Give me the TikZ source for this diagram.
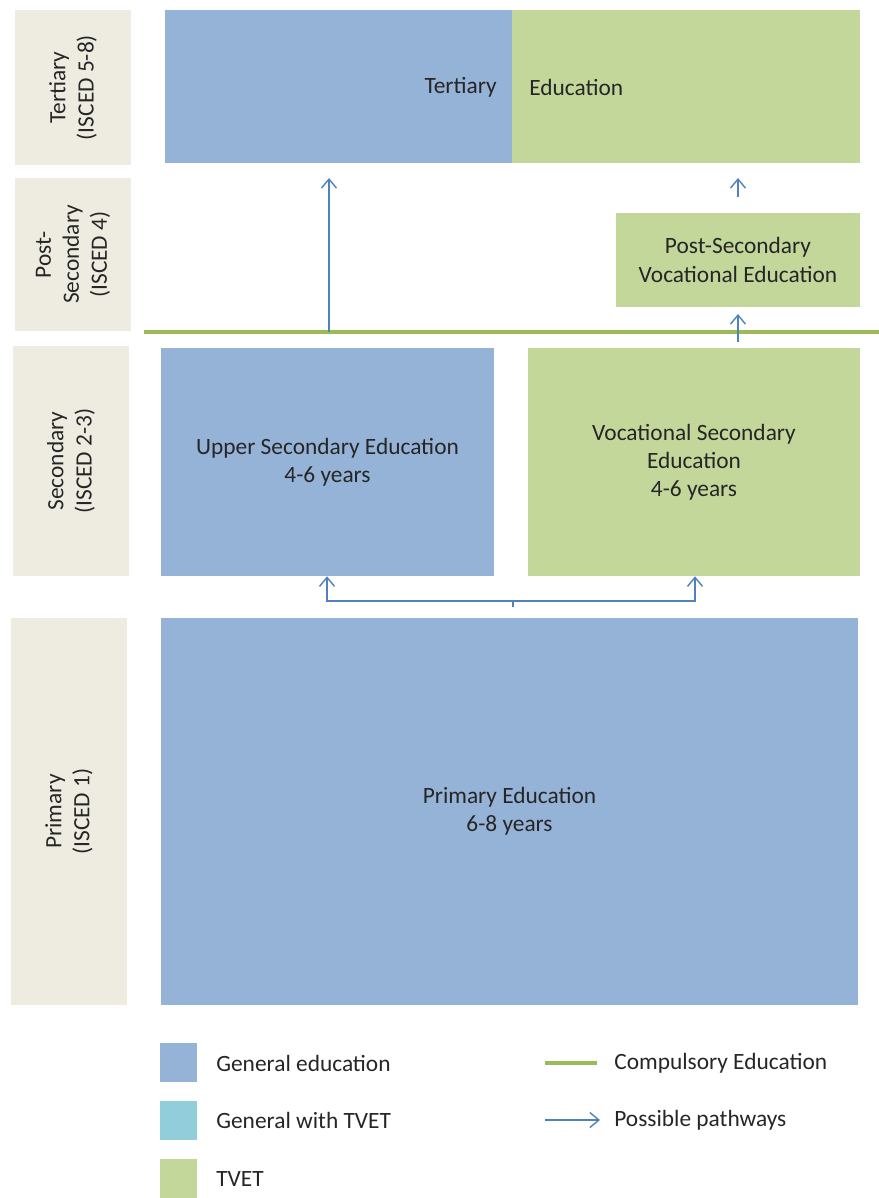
\documentclass[tikz,border=0pt]{standalone}
\usepackage{fontspec}
\setmainfont{Carlito}
\usetikzlibrary{positioning,arrows.meta,calc}
\definecolor{genblue}{HTML}{95B3D7}
\definecolor{tvetgreen}{HTML}{C4D79B}
\definecolor{mixcyan}{HTML}{92CDDC}
\definecolor{compgreen}{HTML}{9BBB59}
\definecolor{stagegray}{HTML}{EEECE1}
\definecolor{pathblue}{HTML}{4F81BD}
\tikzset{
  stage/.style={rectangle, fill=stagegray, rotate=90, align=center, inner sep=0pt, font=\fontsize{13.3}{16}\selectfont},
  gen/.style={rectangle, fill=genblue, align=center, inner sep=0pt, font=\fontsize{13.3}{16}\selectfont},
  tvet/.style={rectangle, fill=tvetgreen, align=center, inner sep=0pt, font=\fontsize{13.3}{16}\selectfont},
  key/.style={rectangle, minimum width=0.74cm, minimum height=0.78cm, inner sep=0pt},
  keytext/.style={anchor=west, inner sep=0pt, font=\fontsize{13.3}{16}\selectfont},
  connect/.style={-{Straight Barb[length=1.8mm,width=3mm]}, draw=pathblue, line width=0.8pt},
  compulsory/.style={draw=compgreen, line width=2.8pt}
}

\begin{document}
\begin{tikzpicture}[x=0.02cm, y=-0.02cm, text=black!85]
  \useasboundingbox (0,0) rectangle (879,1198);

  \node[stage, minimum width=3.1cm, minimum height=2.32cm] (sTer) at (73,87.5) {Tertiary\\(ISCED 5-8)};
  \node[stage, minimum width=3.06cm, minimum height=2.32cm] (sPost) at (73,254.5) {Post-\\Secondary\\(ISCED 4)};
  \node[stage, minimum width=4.6cm, minimum height=2.32cm] (sSec) at (71,461) {Secondary\\(ISCED 2-3)};
  \node[stage, minimum width=7.74cm, minimum height=2.32cm] (sPrim) at (69,811.5) {Primary\\(ISCED 1)};

  \node[gen, minimum width=6.94cm, minimum height=3.06cm] (terGen) at (338.5,86.5) {};
  \node[tvet, minimum width=6.96cm, minimum height=3.06cm] (terVoc) at (686,86.5) {};
  \node[anchor=east, inner sep=0pt, font=\fontsize{13.3}{16}\selectfont] (terTxt) at (497,87) {Tertiary};
  \node[anchor=west, inner sep=0pt, font=\fontsize{13.3}{16}\selectfont] (eduTxt) at (529,87) {Education};

  \node[tvet, minimum width=4.88cm, minimum height=1.88cm] (postVoc) at (738,260) {Post-Secondary\\Vocational Education};
  \node[gen, minimum width=6.66cm, minimum height=4.56cm] (upSec) at (327.5,462) {Upper Secondary Education\\4-6 years};
  \node[tvet, minimum width=6.64cm, minimum height=4.56cm] (vocSec) at (694,462) {Vocational Secondary\\Education\\4-6 years};
  \node[gen, minimum width=13.94cm, minimum height=7.74cm] (prim) at (509.5,811.5) {Primary Education\\6-8 years};

  % compulsory education line
  \coordinate (cL) at (144,332);
  \coordinate (cR) at (879,332);
  \draw[compulsory] (cL) -- (cR);

  \coordinate (a1) at (329,332);
  \coordinate (a2) at (329,178);
  \coordinate (b1) at (738,197);
  \coordinate (b2) at (738,178);
  \coordinate (c1) at (738,342);
  \coordinate (c2) at (738,314);
  \coordinate (f0) at (513,607);
  \coordinate (f1) at (513,601);
  \draw[connect] (a1) -- (a2);
  \draw[connect] (b1) -- (b2);
  \draw[connect] (c1) -- (c2);
  \draw[draw=pathblue, line width=0.8pt] (f0) -- (f1);
  \draw[connect] (f1) -| (upSec.south -| 327,0);
  \draw[connect] (f1) -| (vocSec.south -| 695,0);

  \node[key, fill=genblue] (kGen) at (178.5,1062.5) {};
  \node[key, fill=mixcyan] (kMix) at (178.5,1120) {};
  \node[key, fill=tvetgreen] (kVoc) at (178.5,1178) {};
  \node[keytext] (tGen) at (216,1063) {General education};
  \node[keytext] (tMix) at (216,1120) {General with TVET};
  \node[keytext] (tVoc) at (216,1179) {TVET};

  \coordinate (l1) at (545,1063);
  \coordinate (l2) at (597,1063);
  \coordinate (p1) at (545,1120);
  \coordinate (p2) at (600,1120);
  \draw[compulsory] (l1) -- (l2);
  \draw[connect] (p1) -- (p2);
  \node[keytext] (tComp) at (614,1063) {Compulsory Education};
  \node[keytext] (tPath) at (614,1120) {Possible pathways};
\end{tikzpicture}
\end{document}
